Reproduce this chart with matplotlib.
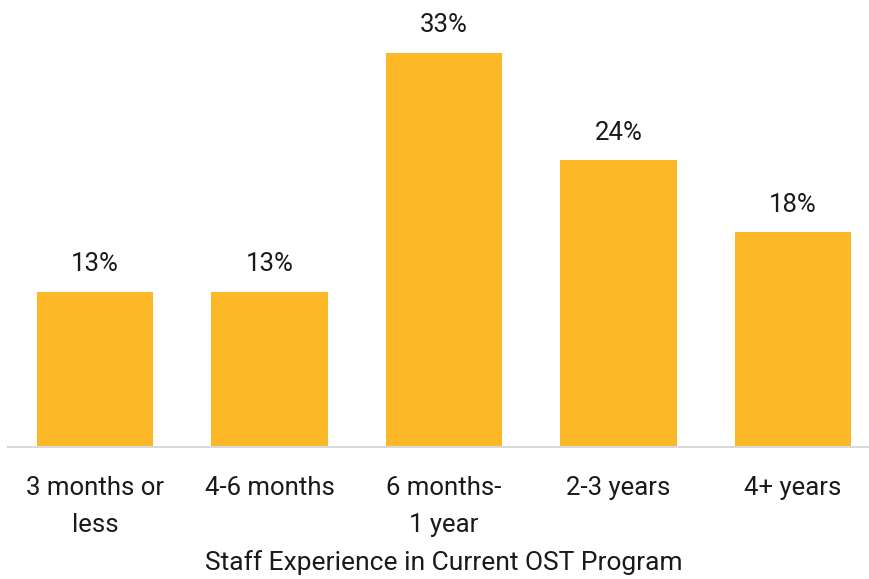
import matplotlib
matplotlib.use('Agg')
import matplotlib.pyplot as plt

categories = ['3 months or\nless', '4-6 months', '6 months-\n1 year', '2-3 years', '4+ years']
values = [13, 13, 33, 24, 18]
labels = ['13%', '13%', '33%', '24%', '18%']

plt.rcParams['font.family'] = ['Roboto', 'DejaVu Sans']

fig = plt.figure(figsize=(8.69, 5.79), dpi=100)
W, H = 869, 579
# plot area in pixels: left 7.75, baseline at y=447, one category = 174.5 px
left = 7.75
unit = 174.5
ax = fig.add_axes([left / W, (H - 447) / H, 5 * unit / W, 447 / H])

x = range(len(values))
ax.bar(x, values, width=0.665, color='#FDB827')
ax.set_xlim(-0.5, 4.5)
ax.set_ylim(0, 447 / 11.95)

for xi, v, lab in zip(x, values, labels):
    ax.annotate(lab, (xi, v), xytext=(0, 11), textcoords='offset points',
                ha='center', va='bottom', fontsize=18.5, color='#1a1a1a')

ax.set_xticks(list(x))
ax.set_xticklabels(categories, fontsize=18.5, color='#1a1a1a', linespacing=1.68)
ax.tick_params(axis='x', length=0, pad=21)
ax.set_yticks([])

for side in ['top', 'right', 'left']:
    ax.spines[side].set_visible(False)
ax.spines['bottom'].set_color('#D9D9D9')
ax.spines['bottom'].set_linewidth(1.5)

fig.text(444 / W, 1 - 563 / H, 'Staff Experience in Current OST Program',
         ha='center', va='center', fontsize=19, color='#1a1a1a')

plt.savefig('out.png', dpi=100)
